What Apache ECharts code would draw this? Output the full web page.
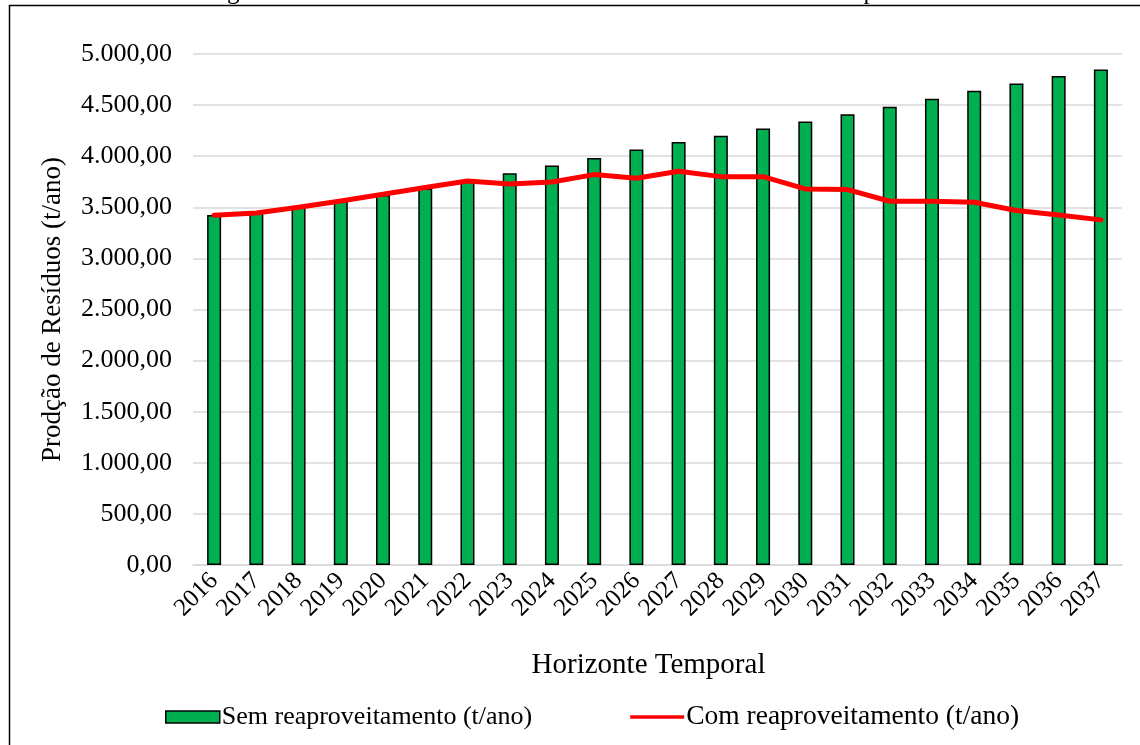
<!DOCTYPE html>
<html>
<head>
<meta charset="utf-8">
<script src="https://cdn.jsdelivr.net/npm/echarts@6/dist/echarts.min.js"></script>
<style>
  html, body { margin: 0; padding: 0; background: #ffffff; }
  #chart { width: 1140px; height: 745px; }
</style>
</head>
<body>
<div id="chart"></div>
<script>
// Anos do horizonte de projeto
const anos = ['2016', '2017', '2018', '2019', '2020', '2021', '2022', '2023', '2024', '2025', '2026',
              '2027', '2028', '2029', '2030', '2031', '2032', '2033', '2034', '2035', '2036', '2037'];

// Massa total sem reaproveitamento (t/ano)
const semReaproveitamento = [3425, 3450, 3500, 3558, 3620, 3685, 3750, 3833, 3909, 3983, 4065,
                             4140, 4200, 4270, 4340, 4411, 4483, 4562, 4640, 4712, 4784, 4849];

// Massa total com reaproveitamento (t/ano)
const comReaproveitamento = [3422, 3445, 3500, 3562, 3628, 3693, 3758, 3729, 3748, 3820, 3784,
                             3852, 3800, 3800, 3680, 3673, 3559, 3559, 3549, 3468, 3425, 3377];

const nomeSem = 'Sem reaproveitamento (t/ano)';
const nomeCom = 'Com reaproveitamento (t/ano)';
const titulo = 'Figura 57 – Massa total de resíduos da área urbana com e sem reaproveitamento';

const FONTE = "'Liberation Serif', 'Times New Roman', serif";

// Formato brasileiro: 5.000,00
function formatoBR(v) {
  const partes = Number(v).toFixed(2).split('.');
  partes[0] = partes[0].replace(/\B(?=(\d{3})+(?!\d))/g, '.');
  return partes[0] + ',' + partes[1];
}

// Ícone da legenda da linha: traço horizontal centrado numa caixa de 12 de altura
const iconeLinha = 'path://M0,0 M0,12 M0,4.2 L58,4.2 L58,7.8 L0,7.8 Z';

const chart = echarts.init(document.getElementById('chart'), null, { renderer: 'canvas' });

chart.setOption({
  backgroundColor: '#ffffff',
  animation: false,
  textStyle: { fontFamily: FONTE, color: '#000' },
  graphic: [
    {
      type: 'rect',
      shape: { x: 9.5, y: 5.5, width: 1300, height: 900 },
      style: { fill: 'none', stroke: '#000', lineWidth: 1.5 },
      silent: true
    },
    {
      type: 'text',
      x: 607, y: 5,
      style: {
        text: titulo,
        font: '25px ' + FONTE,
        fill: '#000',
        textAlign: 'center',
        textVerticalAlign: 'bottom'
      },
      silent: true
    }
  ],
  grid: { left: 193, right: 18, top: 54, bottom: 180, containLabel: false },
  legend: {
    left: 160,
    top: 698,
    itemGap: 98,
    itemWidth: 54,
    itemHeight: 12,
    textStyle: { fontFamily: FONTE, fontSize: 26, color: '#000', padding: [0, 0, 0, -3] },
    data: [
      { name: nomeSem, icon: 'rect', itemStyle: { color: '#00b050', borderColor: '#000', borderWidth: 1.5 } },
      { name: nomeCom, icon: iconeLinha, itemStyle: { color: '#ff0000', borderWidth: 0 },
        textStyle: { fontSize: 27.5 } }
    ]
  },
  xAxis: {
    type: 'category',
    data: anos,
    name: 'Horizonte Temporal',
    nameLocation: 'middle',
    nameGap: 86,
    nameTextStyle: { fontFamily: FONTE, fontSize: 29, color: '#000', padding: [0, 18, 0, 0] },
    axisLine: { lineStyle: { color: '#d9d9d9', width: 1.5 } },
    axisTick: { show: false },
    axisLabel: { rotate: 45, margin: 12, fontFamily: FONTE, fontSize: 25, color: '#000', interval: 0 }
  },
  yAxis: {
    type: 'value',
    min: 0,
    max: 5000,
    interval: 500,
    name: 'Prodção de Resíduos (t/ano)',
    nameLocation: 'middle',
    nameGap: 127,
    nameTextStyle: { fontFamily: FONTE, fontSize: 27, color: '#000' },
    axisLine: { show: false },
    axisTick: { show: false },
    splitLine: { lineStyle: { color: '#d9d9d9', width: 1.5 } },
    axisLabel: { margin: 21, fontFamily: FONTE, fontSize: 26, color: '#000', formatter: formatoBR }
  },
  series: [
    {
      name: nomeSem,
      type: 'bar',
      data: semReaproveitamento,
      barWidth: 14,
      itemStyle: { color: '#00b050', borderColor: '#000', borderWidth: 1.5 },
      z: 2
    },
    {
      name: nomeCom,
      type: 'line',
      data: comReaproveitamento,
      symbol: 'none',
      lineStyle: { color: '#ff0000', width: 5, cap: 'round', join: 'round' },
      itemStyle: { color: '#ff0000' },
      z: 3
    }
  ]
});
</script>
</body>
</html>
